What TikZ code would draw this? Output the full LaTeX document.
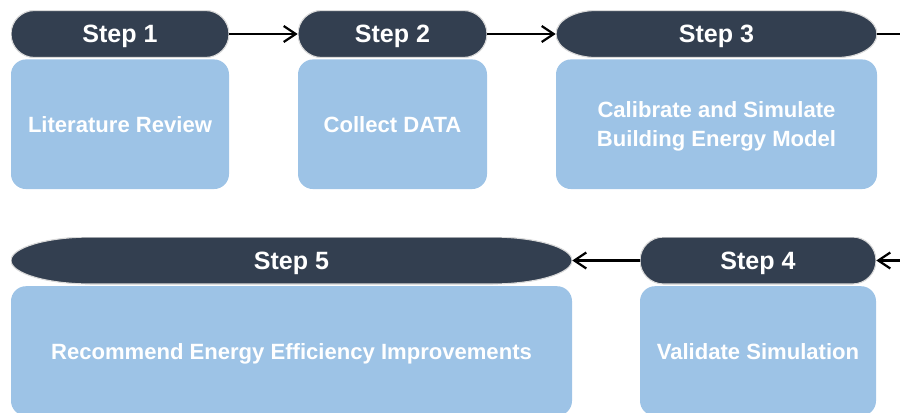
\documentclass[tikz,border=0pt]{standalone}
\usepackage{fontspec}
\setmainfont{Liberation Sans}
\usetikzlibrary{arrows.meta}
\definecolor{headfill}{HTML}{333F50}
\definecolor{boxfill}{HTML}{9DC3E6}
\tikzset{head/.style={rectangle,minimum height=1.175cm,inner sep=0pt,text=white,text depth=0pt,
    font=\fontsize{17.8}{21}\selectfont\bfseries,
    path picture={\path[fill=headfill,draw=gray!30,line width=0.8pt]
      ([xshift=#1]path picture bounding box.north west) -- ([xshift=-#1]path picture bounding box.north east)
      arc[start angle=90,end angle=-90,x radius=#1,y radius=0.5875cm]
      -- ([xshift=#1]path picture bounding box.south west)
      arc[start angle=270,end angle=90,x radius=#1,y radius=0.5875cm] -- cycle;}}}
\tikzset{box/.style={rectangle,rounded corners=0.375cm,fill=boxfill,text=white,
    minimum height=3.24cm,inner sep=0pt,align=center,text depth=0pt,
    font=\fontsize{15.7}{20.6}\selectfont\bfseries}}
\tikzset{flow/.style={line width=1.6pt,-{Straight Barb[length=3mm,width=4mm]}}}

\begin{document}
\begin{tikzpicture}
      \useasboundingbox (0,0) rectangle (22.5,-10.3);
      % boxes
      \node[box,minimum width=5.45cm] (b1) at (3.0,-3.106) {Literature Review};
      \node[box,minimum width=4.725cm] (b2) at (9.8125,-3.106) {Collect DATA};
      \node[box,minimum width=8.025cm] (b3) at (17.9125,-3.106) {Calibrate and Simulate\\Building Energy Model};
      \node[box,minimum width=5.9cm] (b4) at (18.95,-8.775) {Validate Simulation};
      \node[box,minimum width=14.025cm] (b5) at (7.2875,-8.775) {Recommend Energy Efficiency Improvements};
      % headers
      \node[head=0.5875cm,minimum width=5.45cm] (s1) at (3.0,-0.85) {Step 1};
      \node[head=0.5875cm,minimum width=4.725cm] (s2) at (9.8125,-0.85) {Step 2};
      \node[head=1.0cm,minimum width=8.025cm] (s3) at (17.9125,-0.85) {Step 3};
      \node[head=0.5875cm,minimum width=5.9cm] (s4) at (18.95,-6.5125) {Step 4};
      \node[head=2.0cm,minimum width=14.025cm] (s5) at (7.2875,-6.5125) {Step 5};
      \coordinate (out) at (22.5,-0.85);
      \coordinate (in) at (22.5,-6.5125);

      \foreach \a/\b in {s1/s2,s2/s3,in/s4,s4/s5}
        \draw[flow] (\a) -- (\b);
      \draw[line width=1.6pt] (s3) -- (out);
    \end{tikzpicture}
\end{document}
